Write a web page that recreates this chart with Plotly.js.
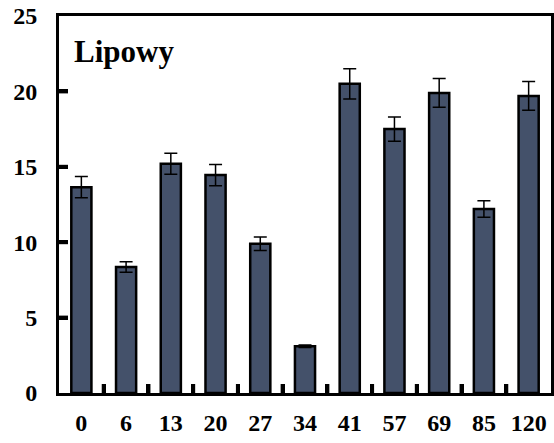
<!DOCTYPE html>
<html>
<head>
<meta charset="utf-8">
<script src="https://cdn.plot.ly/plotly-3.0.1.min.js"></script>
<style>html,body{margin:0;padding:0;background:#fff}#chart{width:554px;height:443px}</style>
</head>
<body>
<div id="chart"></div>
<script>
// Sampling days and mean values with their standard errors
const days = ["0", "6", "13", "20", "27", "34", "41", "57", "69", "85", "120"];
const means = [13.65, 8.35, 15.2, 14.45, 9.9, 3.1, 20.5, 17.5, 19.9, 12.2, 19.7];
const errors = [0.7, 0.35, 0.7, 0.7, 0.45, 0.08, 1.0, 0.8, 0.95, 0.55, 0.95];
const yTicks = [0, 5, 10, 15, 20, 25];

const serif = "Liberation Serif, Times New Roman, serif";
const TICK_LEN = 9;
const TICK_W = 4;

const trace = {
  type: "bar",
  x: days,
  y: means,
  width: 0.45,
  marker: { color: "#44516a", line: { color: "#000", width: 2.5 } },
  error_y: { type: "data", array: errors, visible: true, color: "#000", thickness: 1.5, width: 6.5 },
  hoverinfo: "x+y"
};

// Short inward tick marks: between neighbouring categories on the x axis,
// and at the inner y tick values on the left axis.
const tickLine = { color: "#000", width: TICK_W };
const xTickMarks = days.slice(1).map((_, i) => ({
  type: "line", layer: "above",
  xref: "x", x0: i + 0.5, x1: i + 0.5,
  yref: "paper", ysizemode: "pixel", yanchor: 0, y0: 0, y1: TICK_LEN,
  line: tickLine
}));
const yTickMarks = yTicks.slice(1, -1).map(v => ({
  type: "line", layer: "above",
  yref: "y", y0: v, y1: v,
  xref: "paper", xsizemode: "pixel", xanchor: 0, x0: 0, x1: TICK_LEN,
  line: tickLine
}));

const layout = {
  width: 554,
  height: 443,
  margin: { l: 59, r: 3, t: 16, b: 50 },
  paper_bgcolor: "#fff",
  plot_bgcolor: "#fff",
  showlegend: false,
  font: { family: serif, color: "#000" },
  xaxis: {
    type: "category",
    showline: true, mirror: true, linecolor: "#000", linewidth: 3,
    ticks: "inside", tickson: "boundaries", ticklen: TICK_LEN, tickwidth: TICK_W, tickcolor: "#000",
    tickangle: 0,
    ticklabelstandoff: 6,
    tickfont: { family: serif, size: 24, weight: "bold", color: "#000" },
    showgrid: false, zeroline: false, fixedrange: true
  },
  yaxis: {
    range: [0, 25],
    tickvals: yTicks,
    ticktext: yTicks.map(String),
    showline: true, mirror: true, linecolor: "#000", linewidth: 3,
    ticks: "inside", ticklen: TICK_LEN, tickwidth: TICK_W, tickcolor: "#000",
    ticklabelstandoff: 14,
    tickfont: { family: serif, size: 24, weight: "bold", color: "#000" },
    showgrid: false, zeroline: false, fixedrange: true
  },
  shapes: xTickMarks.concat(yTickMarks),
  annotations: [{
    text: "Lipowy",
    xref: "paper", yref: "paper",
    x: 0.027, y: 0.905, xanchor: "left", yanchor: "middle",
    showarrow: false,
    font: { family: serif, size: 31, weight: "bold", color: "#000" }
  }]
};

Plotly.newPlot("chart", [trace], layout, { displayModeBar: false, staticPlot: true });
</script>
</body>
</html>
